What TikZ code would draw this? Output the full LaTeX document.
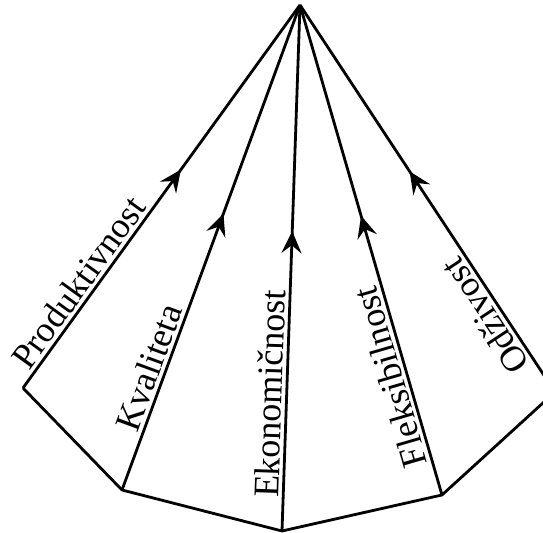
\documentclass[tikz,border=0pt]{standalone}
\usepackage{fontspec}
\setmainfont{Liberation Serif}
\usetikzlibrary{arrows.meta, decorations.markings}

\tikzset{
	flow/.style={decoration={markings, mark=at position 0.57 with {\arrow{Stealth[length=11pt, width=10pt, inset=4pt]}}}, postaction={decorate}},
	lab/.style={anchor=south, inner sep=1.5pt, font=\fontsize{18}{20}\selectfont}
}

\begin{document}
\begin{tikzpicture}[x=0.5pt, y=-0.5pt, line width=1.4pt, line join=round]

		\useasboundingbox (0,0) rectangle (543,533);
		\clip (0,0) rectangle (543,533);

		\coordinate (top) at (300,5);
		\coordinate (b1) at (23,388);
		\coordinate (b2) at (122,490);
		\coordinate (b3) at (282,531);
		\coordinate (b4) at (442,495);
		\coordinate (b5) at (555,392);

		\draw (b1) -- (b2) -- (b3) -- (b4) -- (b5);

		\draw[flow] (b1) -- node[lab, pos=0.25, rotate=54.1] {Produktivnost} (top);
		\draw[flow] (b2) -- node[lab, pos=0.24, rotate=69.85] {Kvaliteta} (top);
		\draw[flow] (b3) -- node[lab, pos=0.26, rotate=88.04] {Ekonomičnost} (top);
		\draw[flow] (b4) -- node[lab, pos=0.25, rotate=106.2] {Fleksibilnost} (top);
		\draw[flow] (b5) -- node[lab, pos=0.22, rotate=123.4] {Odživost} (top);

\end{tikzpicture}
\end{document}
